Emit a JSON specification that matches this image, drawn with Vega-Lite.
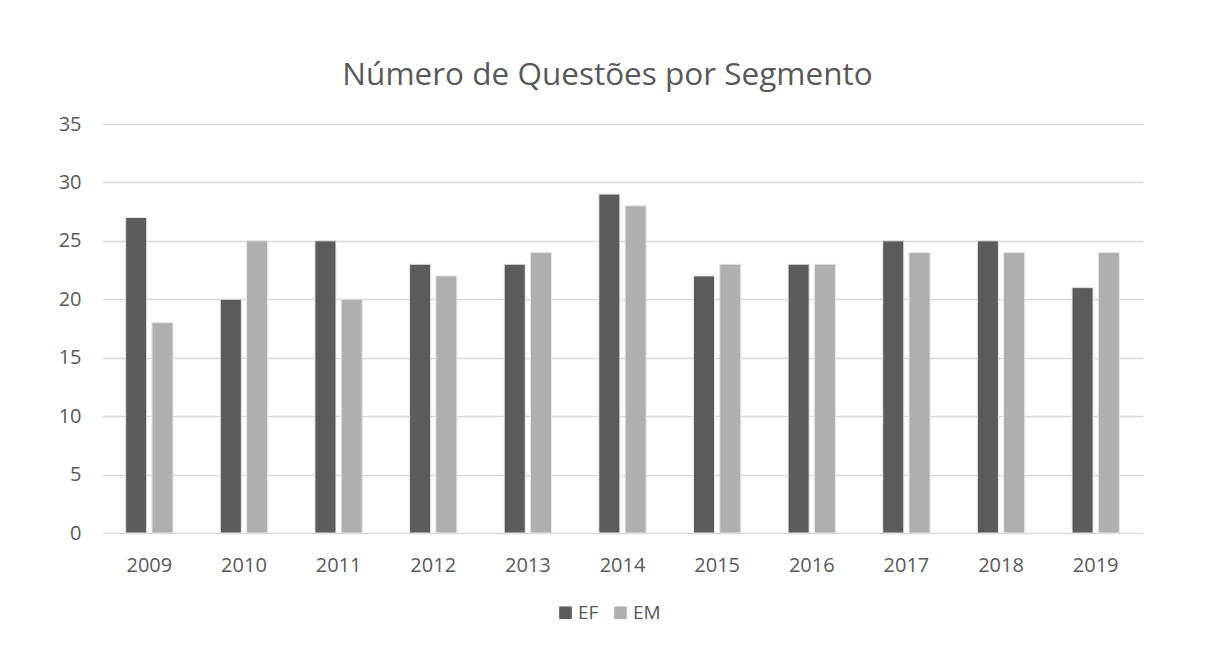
{
  "$schema": "https://vega.github.io/schema/vega-lite/v6.json",
  "width": 1041,
  "height": 409,
  "autosize": {"type": "none"},
  "padding": {"left": 102, "top": 124, "right": 69, "bottom": 133},
  "background": "white",
  "title": {
    "text": "Número de Questões por Segmento",
    "font": "Open Sans",
    "fontSize": 31.5,
    "fontWeight": "normal",
    "color": "#595959",
    "anchor": "middle",
    "dx": -15,
    "offset": 23
  },
  "data": {
    "values": [
      {"ano": "2009", "seg": "EF", "n": 27}, {"ano": "2009", "seg": "EM", "n": 18},
      {"ano": "2010", "seg": "EF", "n": 20}, {"ano": "2010", "seg": "EM", "n": 25},
      {"ano": "2011", "seg": "EF", "n": 25}, {"ano": "2011", "seg": "EM", "n": 20},
      {"ano": "2012", "seg": "EF", "n": 23}, {"ano": "2012", "seg": "EM", "n": 22},
      {"ano": "2013", "seg": "EF", "n": 23}, {"ano": "2013", "seg": "EM", "n": 24},
      {"ano": "2014", "seg": "EF", "n": 29}, {"ano": "2014", "seg": "EM", "n": 28},
      {"ano": "2015", "seg": "EF", "n": 22}, {"ano": "2015", "seg": "EM", "n": 23},
      {"ano": "2016", "seg": "EF", "n": 23}, {"ano": "2016", "seg": "EM", "n": 23},
      {"ano": "2017", "seg": "EF", "n": 25}, {"ano": "2017", "seg": "EM", "n": 24},
      {"ano": "2018", "seg": "EF", "n": 25}, {"ano": "2018", "seg": "EM", "n": 24},
      {"ano": "2019", "seg": "EF", "n": 21}, {"ano": "2019", "seg": "EM", "n": 24}
    ]
  },
  "mark": {"type": "bar", "stroke": "#e6e6e6", "strokeWidth": 1},
  "encoding": {
    "x": {
      "field": "ano",
      "type": "nominal",
      "scale": {"paddingInner": 0.5, "paddingOuter": 0.25},
      "axis": {
        "title": null,
        "labelAngle": 0,
        "labelFont": "Open Sans",
        "labelFontSize": 20,
        "labelColor": "#595959",
        "labelPadding": 22,
        "ticks": false,
        "domain": false
      }
    },
    "xOffset": {
      "field": "seg",
      "type": "nominal",
      "scale": {"paddingInner": 0.2, "paddingOuter": 0}
    },
    "y": {
      "field": "n",
      "type": "quantitative",
      "scale": {"domain": [0, 35], "nice": false},
      "axis": {
        "title": null,
        "values": [0, 5, 10, 15, 20, 25, 30, 35],
        "labelFont": "Open Sans",
        "labelFontSize": 20,
        "labelColor": "#595959",
        "labelPadding": 21,
        "ticks": false,
        "domain": false,
        "gridColor": "#d9d9d9",
        "gridWidth": 1.5
      }
    },
    "color": {
      "field": "seg",
      "type": "nominal",
      "scale": {"domain": ["EF", "EM"], "range": ["#5b5b5b", "#afafaf"]},
      "legend": {
        "title": null,
        "orient": "none",
        "direction": "horizontal",
        "legendX": 454,
        "legendY": 479,
        "symbolType": "square",
        "symbolSize": 160,
        "symbolStrokeWidth": 0,
        "labelFont": "Open Sans",
        "labelFontSize": 19,
        "labelColor": "#595959",
        "labelOffset": 3,
        "columnPadding": 12
      }
    }
  },
  "config": {
    "view": {"stroke": null}
  }
}
